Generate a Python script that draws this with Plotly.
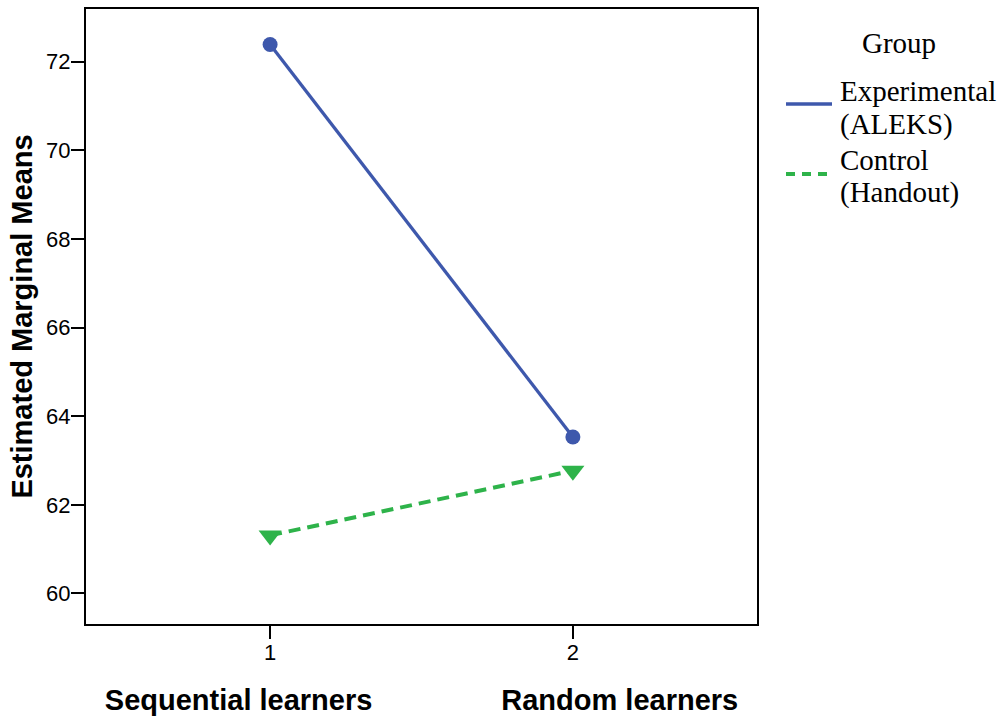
import plotly.graph_objects as go

# ---- data ----
x_levels = [1, 2]
x_tick_labels = ["1", "2"]
series_names = ["Experimental (ALEKS)", "Control (Handout)"]
experimental_means = [72.39, 63.53]
control_means = [61.31, 62.77]
y_ticks = [60, 62, 64, 66, 68, 70, 72]
x_title_left = "Sequential learners"
x_title_right = "Random learners"
y_title = "Estimated Marginal Means"
legend_title = "Group"

BLUE = "#3E58AC"
GREEN = "#2EB34A"
SANS = "Liberation Sans, Arial, sans-serif"
SERIF = "Liberation Serif, Times New Roman, serif"

fig = go.Figure()
fig.add_trace(go.Scatter(
    x=x_levels, y=experimental_means, name=series_names[0], mode="lines+markers",
    line=dict(color=BLUE, width=3.3),
    marker=dict(symbol="circle", size=15, color=BLUE),
    showlegend=False,
))
fig.add_trace(go.Scatter(
    x=x_levels, y=control_means, name=series_names[1], mode="lines+markers",
    line=dict(color=GREEN, width=4, dash="12px,7px"),
    marker=dict(symbol="triangle-down", size=20, color=GREEN),
    showlegend=False,
))

L, T, R, B = 86, 9, 246, 93
W, H = 1003, 717
pw, ph = W - L - R, H - T - B

def px_x(px):
    return (px - L) / pw

def px_y(py):
    return (H - B - py) / ph

# manual legend (SPSS style)
annotations = [dict(text=legend_title, x=px_x(899), y=px_y(43), xref="paper", yref="paper",
                    xanchor="center", yanchor="middle", showarrow=False,
                    font=dict(family=SERIF, size=29, color="black"))]
shapes = []
colors = [BLUE, GREEN]
dashes = ["solid", "9px,7px"]
line_y = [104, 174]
text_y = [(91, 124), (160, 192)]
for i, name in enumerate(series_names):
    first, second = name.split(" ", 1)
    shapes.append(dict(type="line", xref="paper", yref="paper",
                       x0=px_x(786), x1=px_x(832), y0=px_y(line_y[i]), y1=px_y(line_y[i]),
                       line=dict(color=colors[i], width=4 if i else 3.3, dash=dashes[i])))
    for txt, ty in zip((first, second), text_y[i]):
        annotations.append(dict(text=txt, x=px_x(838), y=px_y(ty), xref="paper", yref="paper",
                                xanchor="left", yanchor="middle", showarrow=False,
                                font=dict(family=SERIF, size=29, color="black")))

nbsp = "\u00a0" * 16
fig.update_layout(
    width=W, height=H,
    margin=dict(l=L, r=R, t=T, b=B),
    paper_bgcolor="white", plot_bgcolor="white",
    showlegend=False,
    annotations=annotations,
    shapes=shapes,
    xaxis=dict(
        range=[0.392, 2.608], tickvals=x_levels, ticktext=x_tick_labels,
        automargin=False,
        showgrid=False, zeroline=False, showline=True, mirror=True,
        linecolor="black", linewidth=2,
        ticks="outside", ticklen=13, tickwidth=2, tickcolor="black",
        ticklabelstandoff=-5,
        tickfont=dict(family=SANS, size=22, color="black"),
        title=dict(text=x_title_left + nbsp + x_title_right, standoff=25,
                   font=dict(family=SANS, size=29, color="black", weight="bold")),
    ),
    yaxis=dict(
        range=[59.31, 73.19], tickvals=y_ticks,
        automargin=False,
        showgrid=False, zeroline=False, showline=True, mirror=True,
        linecolor="black", linewidth=2,
        ticks="outside", ticklen=13, tickwidth=2, tickcolor="black",
        ticklabelstandoff=-4,
        tickfont=dict(family=SANS, size=22, color="black"),
        title=dict(text=y_title, standoff=5,
                   font=dict(family=SANS, size=29, color="black", weight="bold")),
    ),
)

fig.write_html("out.html", config={"displayModeBar": False},
               post_script="document.body.style.margin='0px';")
